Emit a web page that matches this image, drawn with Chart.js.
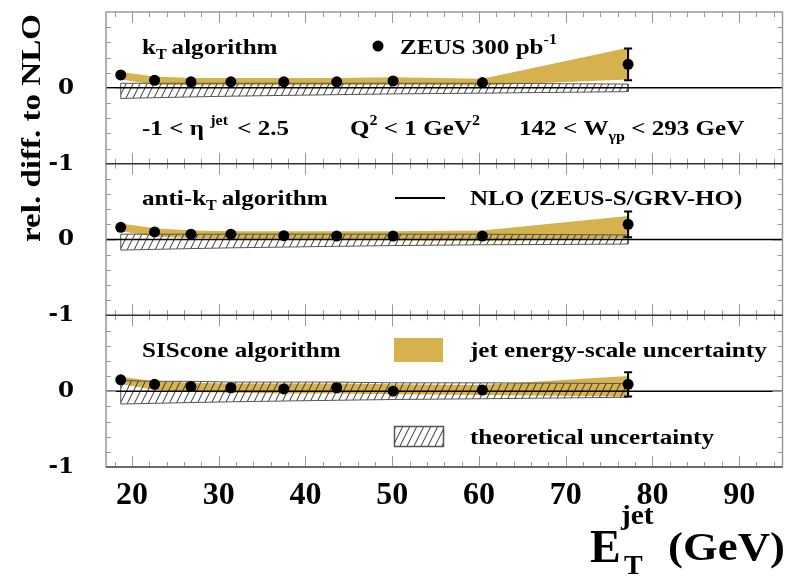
<!DOCTYPE html>
<html><head><meta charset="utf-8">
<script src="https://cdn.jsdelivr.net/npm/chart.js@4.4.1/dist/chart.umd.min.js"></script>
<style>html,body{margin:0;padding:0;background:#fff;}#wrap{position:relative;width:788px;height:576px;}</style>
</head><body><div id="wrap"><canvas id="c" width="788" height="576"></canvas></div>
<script>
// ---- data ----
const etJet = [18.7, 22.6, 26.8, 31.4, 37.5, 43.6, 50.1, 60.4, 77.2];

const ktVals   = [0.17, 0.10, 0.08, 0.08, 0.08, 0.08, 0.09, 0.07, 0.31];
const ktErr    = [0.02, 0.02, 0.02, 0.02, 0.02, 0.02, 0.02, 0.03, 0.21];
const ktJesUp  = [0.21, 0.15, 0.13, 0.13, 0.13, 0.13, 0.14, 0.12, 0.53];
const ktJesLo  = [0.11, 0.04, 0.035, 0.035, 0.035, 0.035, 0.04, 0.03, 0.11];
const ktThUp   = [0.06, 0.06, 0.06, 0.06, 0.06, 0.06, 0.06, 0.06, 0.05];
const ktThLo   = [-0.14, -0.13, -0.12, -0.11, -0.10, -0.09, -0.08, -0.07, -0.05];

const akVals   = [0.16, 0.10, 0.07, 0.07, 0.05, 0.045, 0.045, 0.045, 0.20];
const akErr    = [0.02, 0.02, 0.02, 0.02, 0.02, 0.02, 0.02, 0.03, 0.17];
const akJesUp  = [0.21, 0.15, 0.12, 0.11, 0.11, 0.11, 0.11, 0.12, 0.31];
const akJesLo  = [0.11, 0.04, 0.02, 0.01, 0.0, 0.0, -0.01, -0.02, 0.02];
const akThUp   = [0.07, 0.07, 0.07, 0.07, 0.07, 0.07, 0.07, 0.07, 0.06];
const akThLo   = [-0.14, -0.13, -0.12, -0.11, -0.10, -0.09, -0.08, -0.07, -0.06];

const sisVals  = [0.15, 0.09, 0.06, 0.045, 0.03, 0.045, 0.0, 0.015, 0.09];
const sisErr   = [0.02, 0.02, 0.02, 0.02, 0.02, 0.02, 0.02, 0.03, 0.16];
const sisJesUp = [0.19, 0.13, 0.11, 0.10, 0.10, 0.10, 0.09, 0.08, 0.20];
const sisJesLo = [0.09, 0.02, -0.01, -0.02, -0.03, -0.03, -0.04, -0.05, -0.07];
const sisThUp  = [0.14, 0.13, 0.13, 0.12, 0.12, 0.12, 0.11, 0.11, 0.10];
const sisThLo  = [-0.17, -0.16, -0.15, -0.14, -0.13, -0.12, -0.11, -0.10, -0.08];

const nloX = [17, 95];
const nloY = [0, 0];

const xTickLabels = [20, 30, 40, 50, 60, 70, 80, 90];
const yTickLabels = [-1, 0];
const xRange = [17, 95];
const yRange = [-1, 1];

// ---- styles ----
const SERIF = '"Liberation Serif", "DejaVu Serif", serif';
const YELLOW = 'rgb(213,178,78)';
const STRETCH = 1.14;

const pc = document.createElement('canvas');
pc.width = 7; pc.height = 14;
const pg = pc.getContext('2d');
pg.strokeStyle = '#333'; pg.lineWidth = 1;
pg.beginPath();
pg.moveTo(-7, 14); pg.lineTo(0, 0);
pg.moveTo(0, 14); pg.lineTo(7, 0);
pg.moveTo(7, 14); pg.lineTo(14, 0);
pg.stroke();
const hatch = pg.createPattern(pc, 'repeat');

const pts = (ys) => etJet.map((x, i) => ({x, y: ys[i]}));

function panelDatasets(axis, vals, up, lo, thUp, thLo) {
  const outline = pts(thUp).concat(pts(thLo).reverse());
  outline.push({x: etJet[0], y: thUp[0]});
  return [
    {data: pts(up), yAxisID: axis, borderWidth: 0, pointRadius: 0, fill: false, order: 6},
    {data: pts(lo), yAxisID: axis, borderWidth: 0, pointRadius: 0, fill: '-1', backgroundColor: YELLOW, order: 5},
    {data: pts(thUp), yAxisID: axis, borderWidth: 0, pointRadius: 0, fill: false, order: 4},
    {data: pts(thLo), yAxisID: axis, borderWidth: 0, pointRadius: 0, fill: '-1', backgroundColor: hatch, order: 3},
    {data: outline, yAxisID: axis, borderColor: '#555', borderWidth: 1, pointRadius: 0, fill: false, order: 2},
    {data: nloX.map((x, i) => ({x, y: nloY[i]})), yAxisID: axis, borderColor: '#000', borderWidth: 1.5, pointRadius: 0, fill: false, order: 1},
    {data: pts(vals), yAxisID: axis, showLine: false, pointRadius: 5.5, pointBackgroundColor: '#000', pointBorderColor: '#000', pointBorderWidth: 0, order: 0}
  ];
}

const panels = [
  {axis: 'y1', vals: ktVals, err: ktErr},
  {axis: 'y2', vals: akVals, err: akErr},
  {axis: 'y3', vals: sisVals, err: sisErr}
];

function zeroPad(s) { s.paddingTop = 0; s.paddingBottom = 0; s.paddingLeft = 0; s.paddingRight = 0; }

function yAxis() {
  return {
    type: 'linear', min: yRange[0], max: yRange[1], position: 'left', stack: 'panels', stackWeight: 1,
    grid: {display: false}, border: {display: false},
    afterBuildTicks: s => { s.ticks = yTickLabels.map(v => ({value: v})); },
    afterFit: s => { s.width = 106; zeroPad(s); },
    ticks: {font: {family: '"DejaVu Serif", serif', weight: 'bold', size: 23}, color: '#000', padding: 24, autoSkip: false}
  };
}

function rich(ctx, x, y, parts, k) {
  k = k || STRETCH;
  let cx = x;
  for (const p of parts) {
    ctx.font = 'bold ' + p.s + 'px ' + SERIF;
    ctx.save();
    ctx.translate(cx, y + (p.dy || 0));
    ctx.scale(k, 1);
    ctx.fillText(p.t, 0, 0);
    ctx.restore();
    cx += ctx.measureText(p.t).width * k + (p.gap || 0);
  }
  return cx;
}

const deco = {
  id: 'deco',
  afterDatasetsDraw(chart) {
    const ctx = chart.ctx, xs = chart.scales.x;
    ctx.save();
    ctx.strokeStyle = '#000'; ctx.lineWidth = 2;
    for (const p of panels) {
      const ys = chart.scales[p.axis];
      p.vals.forEach((v, i) => {
        const e = p.err[i];
        const px = xs.getPixelForValue(etJet[i]);
        const a = ys.getPixelForValue(v + e), b = ys.getPixelForValue(v - e);
        ctx.beginPath();
        ctx.moveTo(px, a); ctx.lineTo(px, b);
        ctx.moveTo(px - 4, a); ctx.lineTo(px + 4, a);
        ctx.moveTo(px - 4, b); ctx.lineTo(px + 4, b);
        ctx.stroke();
      });
    }
    ctx.restore();
  },
  afterDraw(chart) {
    const ctx = chart.ctx, ca = chart.chartArea, xs = chart.scales.x;
    ctx.save();
    // ticks
    ctx.strokeStyle = '#999'; ctx.lineWidth = 1;
    for (const p of panels) {
      const ys = chart.scales[p.axis];
      const top = ys.top, bot = ys.bottom;
      for (let v = 18; v <= 94; v += 2) {
        const px = Math.round(xs.getPixelForValue(v)) + 0.5;
        const L = v % 10 === 0 ? 11 : 5;
        ctx.beginPath();
        ctx.moveTo(px, top); ctx.lineTo(px, top + L);
        ctx.moveTo(px, bot); ctx.lineTo(px, bot - L);
        ctx.stroke();
      }
      for (let k = -4; k <= 4; k++) {
        const py = Math.round(ys.getPixelForValue(k / 5)) + 0.5;
        const L = k === 0 ? 10 : 5;
        ctx.beginPath();
        ctx.moveTo(ca.left, py); ctx.lineTo(ca.left + L, py);
        ctx.moveTo(ca.right, py); ctx.lineTo(ca.right - L, py);
        ctx.stroke();
      }
    }
    // frame
    ctx.strokeStyle = '#999'; ctx.lineWidth = 1.5;
    ctx.strokeRect(ca.left, ca.top, ca.right - ca.left, ca.bottom - ca.top);
    ctx.strokeStyle = '#333'; ctx.lineWidth = 1.5;
    for (const id of ['y1', 'y2']) {
      const b = chart.scales[id].bottom;
      ctx.beginPath(); ctx.moveTo(ca.left, b); ctx.lineTo(ca.right, b); ctx.stroke();
    }
    ctx.strokeStyle = '#555';
    ctx.beginPath(); ctx.moveTo(ca.left, ca.bottom); ctx.lineTo(ca.right, ca.bottom); ctx.stroke();

    // annotation text
    ctx.fillStyle = '#000'; ctx.textBaseline = 'alphabetic'; ctx.textAlign = 'left';
    const F = 22, S = 14;
    rich(ctx, 142, 54, [{t: 'k', s: F}, {t: 'T', s: S, dy: 5, gap: 5}, {t: 'algorithm', s: F}]);
    ctx.beginPath(); ctx.arc(378, 46, 5.5, 0, Math.PI * 2); ctx.fill();
    rich(ctx, 400, 54, [{t: 'ZEUS 300 pb', s: F}, {t: '-1', s: S, dy: -10}]);
    rich(ctx, 142, 135, [{t: '-1 < η ', s: F}, {t: 'jet', s: S, dy: -10, gap: 3}, {t: ' < 2.5', s: F}]);
    rich(ctx, 350, 135, [{t: 'Q', s: F}, {t: '2', s: S, dy: -10}, {t: ' < 1 GeV', s: F}, {t: '2', s: S, dy: -10}]);
    rich(ctx, 519, 135, [{t: '142 < W', s: F}, {t: 'γp', s: S, dy: 6}, {t: ' < 293 GeV', s: F}]);

    rich(ctx, 142, 205, [{t: 'anti-k', s: F}, {t: 'T', s: S, dy: 5, gap: 5}, {t: 'algorithm', s: F}]);
    ctx.strokeStyle = '#000'; ctx.lineWidth = 2;
    ctx.beginPath(); ctx.moveTo(395, 198); ctx.lineTo(445, 198); ctx.stroke();
    rich(ctx, 470, 205, [{t: 'NLO (ZEUS-S/GRV-HO)', s: F}]);

    rich(ctx, 142, 357, [{t: 'SIScone algorithm', s: F}]);
    ctx.fillStyle = YELLOW; ctx.fillRect(394, 338, 49, 24);
    ctx.fillStyle = '#000';
    rich(ctx, 470, 357, [{t: 'jet energy-scale uncertainty', s: F}]);
    ctx.fillStyle = hatch; ctx.fillRect(394, 426, 49, 20);
    ctx.strokeStyle = '#555'; ctx.lineWidth = 1.5; ctx.strokeRect(394.5, 426.5, 49, 20);
    ctx.fillStyle = '#000';
    rich(ctx, 470, 444, [{t: 'theoretical uncertainty', s: F}]);

    // axis titles
    rich(ctx, 590, 562, [{t: 'E', s: 46}], 1);
    rich(ctx, 621, 524, [{t: 'jet', s: 28}], 1.05);
    rich(ctx, 624, 574, [{t: 'T', s: 28}], 1);
    rich(ctx, 668, 560, [{t: '(GeV)', s: 40}], 1.12);

    ctx.translate(33, 128); ctx.rotate(-Math.PI / 2);
    ctx.scale(1.18, 1);
    ctx.textAlign = 'center'; ctx.textBaseline = 'middle';
    ctx.font = 'bold 28px ' + SERIF;
    ctx.fillText('rel. diff. to NLO', 0, 0);
    ctx.restore();
  }
};

const datasets = [].concat(
  panelDatasets('y1', ktVals, ktJesUp, ktJesLo, ktThUp, ktThLo),
  panelDatasets('y2', akVals, akJesUp, akJesLo, akThUp, akThLo),
  panelDatasets('y3', sisVals, sisJesUp, sisJesLo, sisThUp, sisThLo)
);

new Chart(document.getElementById('c'), {
  type: 'line',
  data: {datasets},
  options: {
    responsive: false, animation: false, devicePixelRatio: 1,
    layout: {padding: {top: 12, right: 2, left: 0, bottom: 0}},
    plugins: {legend: {display: false}, tooltip: {enabled: false}},
    elements: {line: {tension: 0}},
    scales: {
      x: {
        type: 'linear', min: xRange[0], max: xRange[1], position: 'bottom',
        grid: {display: false}, border: {display: false},
        afterBuildTicks: s => { s.ticks = xTickLabels.map(v => ({value: v})); },
        afterFit: s => { s.height = 109; zeroPad(s); },
        ticks: {font: {family: SERIF, weight: 'bold', size: 32}, color: '#000', padding: 2, maxRotation: 0, autoSkip: false}
      },
      y3: yAxis(),
      y2: yAxis(),
      y1: yAxis()
    }
  },
  plugins: [deco]
});
</script></body></html>
